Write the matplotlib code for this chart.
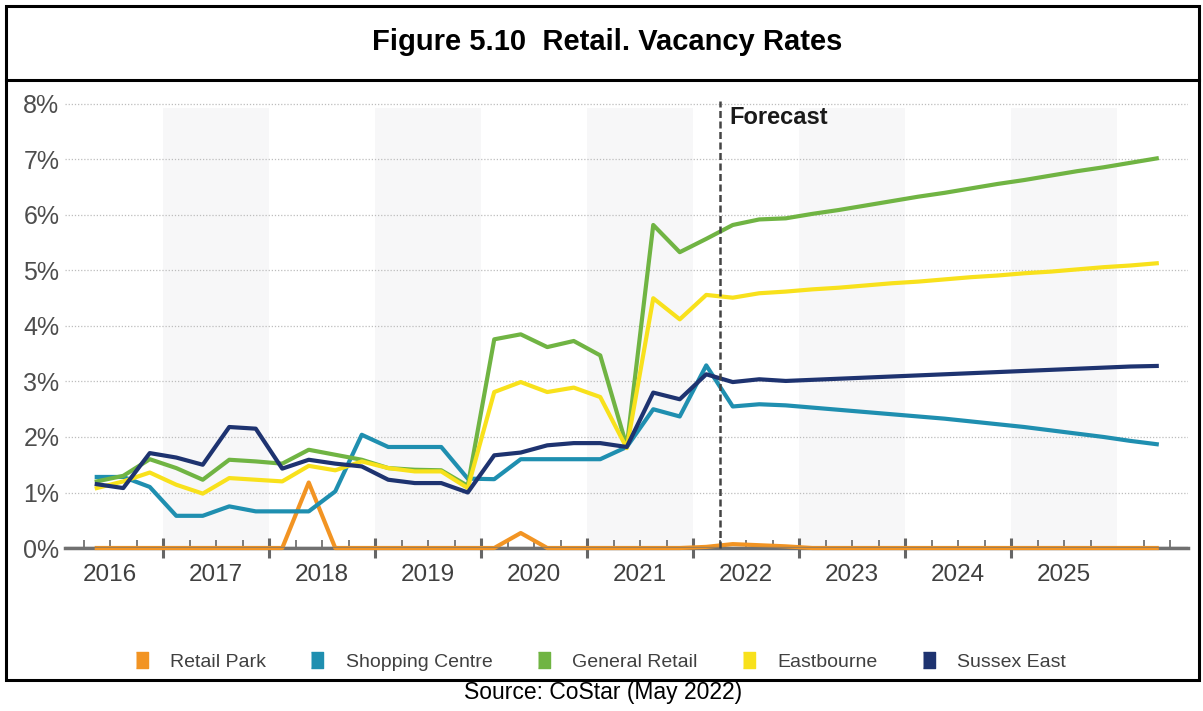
import numpy as np
import pandas as pd
import matplotlib
matplotlib.use("Agg")
import matplotlib.pyplot as plt
from matplotlib.lines import Line2D
from matplotlib.patches import Rectangle

plt.rcParams['font.family'] = ['Liberation Sans', 'DejaVu Sans']

# quarterly vacancy rates (%), 2016 Q2 .. 2026 Q2; forecast from 2022 Q2
quarters = pd.period_range('2016Q2', '2026Q2', freq='Q')
forecast_start = 2022.25

retail_park = [0, 0, 0, 0, 0, 0, 0, 0, 1.18, 0, 0, 0, 0, 0, 0, 0,
               0.27, 0, 0, 0, 0, 0, 0, 0.02,
               0.07, 0.05, 0.03, 0, 0, 0, 0, 0, 0, 0, 0, 0, 0, 0, 0, 0, 0]
shopping_centre = [1.28, 1.28, 1.10, 0.58, 0.58, 0.75, 0.66, 0.66, 0.66, 1.02,
                   2.04, 1.82, 1.82, 1.82, 1.25, 1.24, 1.60, 1.60, 1.60, 1.60,
                   1.82, 2.50, 2.37, 3.29,
                   2.55, 2.59, 2.57, 2.53, 2.49, 2.45, 2.41, 2.37, 2.33, 2.28,
                   2.23, 2.18, 2.12, 2.06, 2.00, 1.93, 1.87]
general_retail = [1.20, 1.30, 1.60, 1.44, 1.23, 1.59, 1.56, 1.52, 1.77, 1.68,
                  1.59, 1.44, 1.41, 1.40, 1.12, 3.76, 3.85, 3.62, 3.73, 3.47,
                  1.83, 5.82, 5.33, 5.57,
                  5.82, 5.92, 5.94, 6.02, 6.09, 6.17, 6.25, 6.33, 6.40, 6.48,
                  6.56, 6.63, 6.71, 6.79, 6.86, 6.94, 7.02]
eastbourne = [1.08, 1.20, 1.36, 1.14, 0.98, 1.26, 1.23, 1.20, 1.48, 1.40,
              1.56, 1.44, 1.38, 1.38, 1.08, 2.81, 2.99, 2.81, 2.89, 2.72,
              1.80, 4.50, 4.12, 4.56,
              4.51, 4.59, 4.62, 4.66, 4.69, 4.73, 4.77, 4.80, 4.84, 4.88,
              4.91, 4.95, 4.98, 5.02, 5.06, 5.09, 5.13]
sussex_east = [1.15, 1.08, 1.71, 1.63, 1.50, 2.18, 2.15, 1.43, 1.59, 1.52,
               1.47, 1.23, 1.17, 1.17, 1.00, 1.67, 1.72, 1.85, 1.89, 1.89,
               1.82, 2.80, 2.68, 3.13,
               2.99, 3.04, 3.01, 3.03, 3.05, 3.07, 3.09, 3.11, 3.13, 3.15,
               3.17, 3.19, 3.21, 3.23, 3.25, 3.27, 3.28]

series_names = ['Retail Park', 'Shopping Centre', 'General Retail', 'Eastbourne', 'Sussex East']
series_values = [retail_park, shopping_centre, general_retail, eastbourne, sussex_east]
series_colors = ['#F29423', '#1F8FB0', '#70B443', '#F8E11C', '#1E3370']
years = list(range(2016, 2026))
shaded_years = [2017, 2019, 2021, 2023, 2025]

# points sit in the middle of each quarter
x = quarters.year + (quarters.quarter - 0.5) / 4

W, H = 1203, 711
fig = plt.figure(figsize=(W / 100, H / 100), dpi=100)
ax = fig.add_axes([65 / W, (H - 548) / H, (1188 - 65) / W, (548 - 96) / H])

ytop = (548 - 96) / 55.5
ax.set_ylim(0, ytop)
ax.set_xlim(2016 + 8 / 106, 2016 + 1131 / 106)

for yr in shaded_years:
    ax.axvspan(yr, yr + 1, ymin=0, ymax=7.93 / ytop, color='#f7f7f8', lw=0, zorder=0)

ax.set_axisbelow(True)
ax.yaxis.grid(True, linestyle=(0, (1, 1.5)), color='#bdbdbd', lw=0.9)

for vals, col in zip(series_values, series_colors):
    ax.plot(x, vals, color=col, lw=3.0, clip_on=False, zorder=3)

# let the gray axis show through the flat orange line
ax.axhline(0, color='#707070', lw=2.4, alpha=0.6, zorder=4)

for s in ['top', 'left', 'right']:
    ax.spines[s].set_visible(False)
ax.spines['bottom'].set_color('#707070')
ax.spines['bottom'].set_linewidth(2.5)

ax.set_xticks(np.arange(2017, 2026))
ax.set_xticks([q for q in np.arange(2016.25, 2026.6, 0.25) if q % 1 != 0], minor=True)
ax.tick_params(axis='x', which='major', direction='inout', length=13.7, width=2.2,
               color='#666666', labelbottom=False)
ax.tick_params(axis='x', which='minor', direction='in', length=5.8, width=1.2,
               color='#666666', labelbottom=False)

ax.set_yticks(range(9))
ax.set_yticklabels([f'{v}%' for v in range(9)])
ax.tick_params(axis='y', length=0, pad=4, labelsize=18, labelcolor='#4d4d4d')

for yr in years:
    ax.text(yr + 0.5, -0.49, str(yr), ha='center', va='center', fontsize=17.5,
            color='#404040', clip_on=False)

ax.plot([forecast_start, forecast_start], [0, 8.05], color='#444444', lw=1.8,
        dashes=(2.8, 1.4), clip_on=False, zorder=5)
ax.text(forecast_start + 0.095, 7.75, 'Forecast', fontsize=17, fontweight='bold',
        color='#1a1a1a', ha='left', va='center')

fig.text(607 / W, 1 - 42 / H, 'Figure 5.10  Retail. Vacancy Rates', ha='center', va='center',
         fontsize=21, fontweight='bold', color='black')

fig.add_artist(Rectangle((6 / W, 1 - 680 / H), (1199 - 6) / W, (680 - 6) / H,
                         transform=fig.transFigure, fill=False, lw=2.2, ec='black'))
fig.add_artist(Line2D([6 / W, 1199 / W], [1 - 80 / H, 1 - 80 / H],
                      transform=fig.transFigure, lw=2.2, color='black'))

box = [(-0.4, -0.5), (0.4, -0.5), (0.4, 0.5), (-0.4, 0.5)]
handles = [Line2D([], [], marker=box, ls='none', ms=11, mfc=c, mec=c) for c in series_colors]
fig.legend(handles, series_names, loc='center', bbox_to_anchor=(600 / W, 1 - 662 / H),
           ncol=5, frameon=False, fontsize=14, handlelength=0.8, handletextpad=1.05,
           columnspacing=2.25, labelcolor='#404040')

fig.text(603 / W, 1 - 693 / H, 'Source: CoStar (May 2022)', ha='center', va='center',
         fontsize=16.5, color='black')

fig.savefig('out.png', dpi=100)
